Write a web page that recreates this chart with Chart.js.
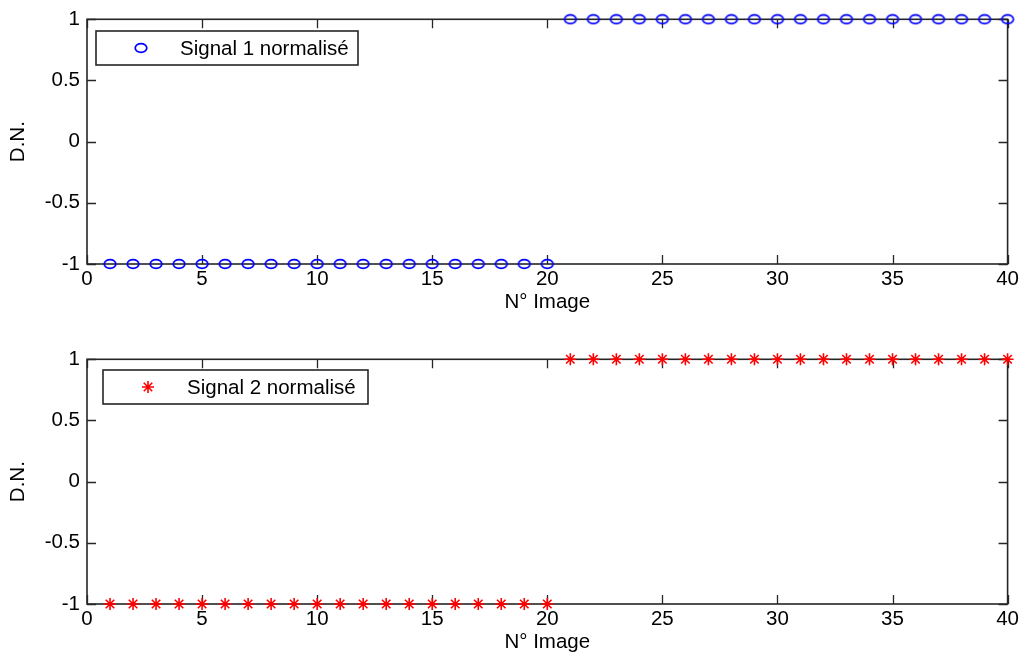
<!DOCTYPE html>
<html>
<head>
<meta charset="utf-8">
<script src="https://cdn.jsdelivr.net/npm/chart.js@4/dist/chart.umd.min.js"></script>
<style>
  html, body { margin: 0; padding: 0; background: #fff; overflow: hidden; width: 1022px; height: 653px; }
  .wrap { position: absolute; left: 0; width: 1022px; height: 340px; }
  canvas { display: block; }
</style>
</head>
<body>
<div class="wrap" style="top:0"><canvas id="c1" width="1022" height="340"></canvas></div>
<div class="wrap" style="top:340px"><canvas id="c2" width="1022" height="340"></canvas></div>
<script>
// ---- data ----
const imageNumbers = [1,2,3,4,5,6,7,8,9,10,11,12,13,14,15,16,17,18,19,20,21,22,23,24,25,26,27,28,29,30,31,32,33,34,35,36,37,38,39,40];
const signal1 = [-1,-1,-1,-1,-1,-1,-1,-1,-1,-1,-1,-1,-1,-1,-1,-1,-1,-1,-1,-1,1,1,1,1,1,1,1,1,1,1,1,1,1,1,1,1,1,1,1,1];
const signal2 = [-1,-1,-1,-1,-1,-1,-1,-1,-1,-1,-1,-1,-1,-1,-1,-1,-1,-1,-1,-1,1,1,1,1,1,1,1,1,1,1,1,1,1,1,1,1,1,1,1,1];
const signal1Label = 'Signal 1 normalisé';
const signal2Label = 'Signal 2 normalisé';
const xTickValues = [0,5,10,15,20,25,30,35,40];
const xTickLabels = ['0','5','10','15','20','25','30','35','40'];
const yTickValues = [-1,-0.5,0,0.5,1];
const yTickLabels = ['-1','-0.5','0','0.5','1'];
const xTitle = 'N° Image';
const yTitle = 'D.N.';

// ---- styles ----
const FONT = { family: '"Liberation Sans", Arial, sans-serif', size: 20.5 };
const FRAME = '#262626';

function ellipseMarker(color) {
  const c = document.createElement('canvas');
  c.width = 16; c.height = 12;
  const g = c.getContext('2d');
  g.strokeStyle = color; g.lineWidth = 1.7;
  g.beginPath(); g.ellipse(8, 6, 5.8, 4.4, 0, 0, Math.PI * 2); g.stroke();
  return c;
}

const framePlugin = {
  id: 'matlabFrame',
  beforeDatasetsDraw(chart) {
    const { ctx, chartArea: a, scales } = chart;
    ctx.save();
    ctx.strokeStyle = FRAME; ctx.lineWidth = 1.6;
    ctx.strokeRect(a.left, a.top, a.right - a.left, a.bottom - a.top);
    ctx.lineWidth = 1.3;
    const tl = 9;
    ctx.beginPath();
    scales.x.ticks.forEach(t => {
      const px = Math.round(scales.x.getPixelForValue(t.value)) + 0.5;
      ctx.moveTo(px, a.bottom); ctx.lineTo(px, a.bottom - tl);
      ctx.moveTo(px, a.top); ctx.lineTo(px, a.top + tl);
    });
    scales.y.ticks.forEach(t => {
      const py = Math.round(scales.y.getPixelForValue(t.value)) + 0.5;
      ctx.moveTo(a.left, py); ctx.lineTo(a.left + tl, py);
      ctx.moveTo(a.right, py); ctx.lineTo(a.right - tl, py);
    });
    ctx.stroke();
    ctx.restore();
  },
  afterDatasetsDraw(chart, args, opts) {
    const { ctx } = chart;
    const ds = chart.data.datasets[0];
    const b = opts.box;
    ctx.save();
    ctx.fillStyle = '#fff';
    ctx.fillRect(b.x, b.y, b.w, b.h);
    ctx.strokeStyle = FRAME; ctx.lineWidth = 1.6;
    ctx.strokeRect(b.x, b.y, b.w, b.h);
    ctx.strokeStyle = ds.pointBorderColor;
    ctx.fillStyle = 'rgba(0,0,0,0)';
    ctx.lineWidth = ds.pointBorderWidth;
    Chart.helpers.drawPoint(ctx, {
      pointStyle: ds.pointStyle, radius: ds.pointRadius, borderWidth: ds.pointBorderWidth, rotation: 0
    }, b.mx, b.my);
    ctx.fillStyle = '#000';
    ctx.font = `${FONT.size}px ${FONT.family}`;
    ctx.textBaseline = 'middle';
    ctx.textAlign = 'left';
    ctx.fillText(ds.label, b.tx, b.my + 1);
    ctx.restore();
  }
};

function makeChart(id, label, values, color, style, box) {
  const ctx = document.getElementById(id).getContext('2d');
  return new Chart(ctx, {
    type: 'scatter',
    data: {
      datasets: [{
        label: label,
        data: imageNumbers.map((x, i) => ({ x: x, y: values[i] })),
        showLine: false,
        pointStyle: style,
        pointRadius: style === 'star' ? 6 : 6,
        pointBorderWidth: style === 'star' ? 1.6 : 1.4,
        borderColor: color,
        backgroundColor: 'rgba(0,0,0,0)',
        pointBorderColor: color,
        pointBackgroundColor: 'rgba(0,0,0,0)',
        clip: false
      }]
    },
    options: {
      responsive: false,
      animation: false,
      events: [],
      layout: { padding: { left: 0, right: 12, top: 19, bottom: 0 } },
      plugins: {
        legend: { display: false },
        tooltip: { enabled: false },
        matlabFrame: { box: box }
      },
      scales: {
        x: {
          type: 'linear', min: 0, max: 40,
          afterBuildTicks: s => { s.ticks = xTickValues.map(v => ({ value: v })); },
          afterFit: s => { s.height = 76; },
          grid: { display: false, drawTicks: false },
          border: { display: false },
          ticks: {
            color: '#000', font: FONT, padding: 3, maxRotation: 0, autoSkip: false,
            callback: (v) => xTickLabels[xTickValues.indexOf(v)]
          },
          title: { display: true, text: xTitle, color: '#000', font: FONT, padding: { top: 0, bottom: 25 } }
        },
        y: {
          type: 'linear', min: -1, max: 1,
          afterBuildTicks: s => { s.ticks = yTickValues.map(v => ({ value: v })); },
          afterFit: s => { s.width = 87; },
          grid: { display: false, drawTicks: false },
          border: { display: false },
          ticks: {
            color: '#000', font: FONT, padding: 7, autoSkip: false,
            callback: (v) => yTickLabels[yTickValues.indexOf(v)]
          },
          title: { display: true, text: yTitle, color: '#000', font: FONT, padding: { top: 6, bottom: 0 } }
        }
      }
    },
    plugins: [framePlugin]
  });
}

makeChart('c1', signal1Label, signal1, '#0000ff', ellipseMarker('#0000ff'),
  { x: 96, y: 31, w: 262, h: 34, mx: 141, my: 48, tx: 180 });
makeChart('c2', signal2Label, signal2, '#ff0000', 'star',
  { x: 103, y: 30, w: 265, h: 34, mx: 148, my: 47, tx: 187 });
</script>
</body>
</html>
